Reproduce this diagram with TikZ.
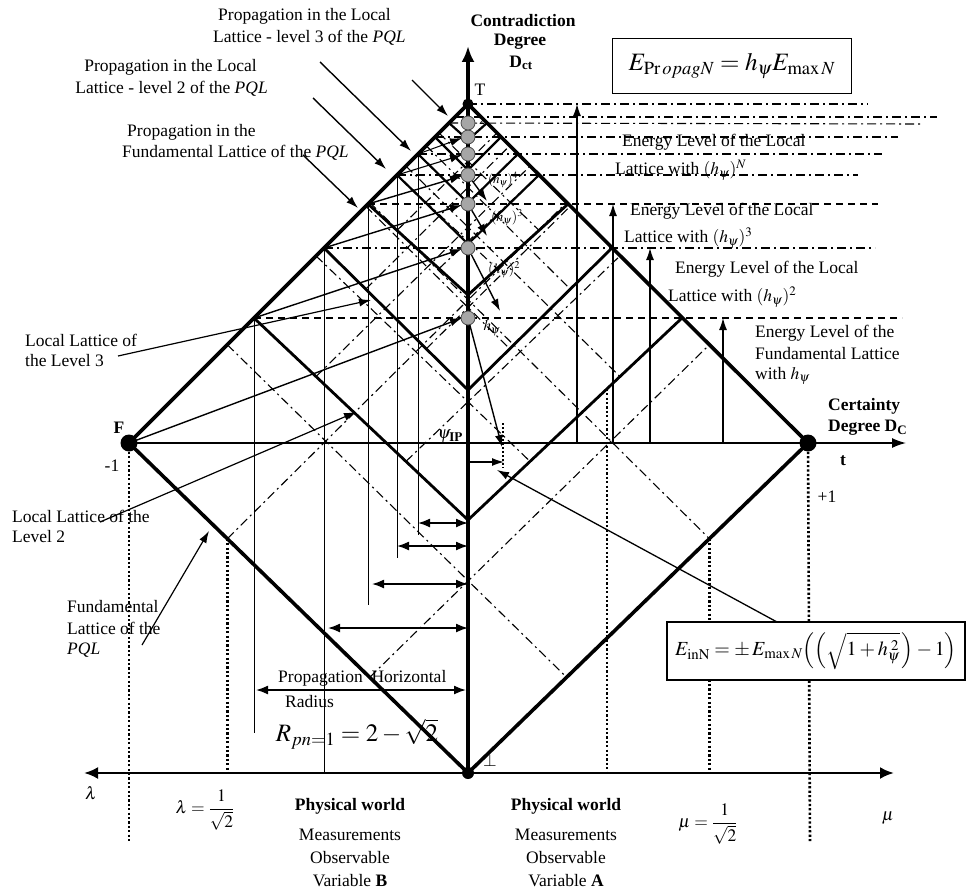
\documentclass[tikz,border=0pt]{standalone}
\usepackage{mathptmx}
\usepackage{fontspec}
\setmainfont{Liberation Serif}
\usetikzlibrary{arrows.meta,calc}
\begin{document}
\begin{tikzpicture}[x=1pt,y=-1pt,
  every node/.style={font=\fontsize{17.5}{21}\selectfont, inner sep=0pt},
  thickl/.style={line width=3.6pt},
  chev/.style={line width=2.8pt},
  chevs/.style={line width=2.2pt},
  thinl/.style={line width=0.9pt},
  dd/.style={line width=1.1pt, dash pattern=on 9pt off 4pt on 2pt off 4pt},
  dsh/.style={line width=1.1pt, dash pattern=on 7pt off 5pt},
  dotl/.style={line width=2.6pt, dash pattern=on 2.2pt off 2.2pt},
  arr/.style={line width=1.4pt, -{Latex[length=12pt,width=8pt]}},
  darr/.style={line width=1.6pt, {Latex[length=12pt,width=9pt]}-{Latex[length=12pt,width=9pt]}},
  gdot/.style={circle, fill=gray!70, draw=black!70, line width=0.8pt, minimum size=14pt},
  bdot/.style={circle, fill=black, minimum size=#1},
  lbl/.style={anchor=west},
  hdr/.style={font=\fontsize{17.5}{21}\selectfont\bfseries},
]
\useasboundingbox (0,0) rectangle (971,891);
% main points
\coordinate (T) at (468,104);
\coordinate (F) at (129,443);
\coordinate (R) at (808,443);
\coordinate (B) at (468,773);
\coordinate (Ytop) at (468,46);
\coordinate (Tend) at (906,443);
\coordinate (Lend) at (84,773);
\coordinate (Mend) at (894,773);
% nested lattices
\foreach \k/\yl/\yb in {1/318/520, 2/248/390, 3/204/295, 4/175/244, 5/154/203, 6/137/170, 7/123/140} {
  \coordinate (F\k) at ({572-\yl},\yl);
  \coordinate (R\k) at ({\yl+364},\yl);
  \coordinate (B\k) at (468,\yb);
  \coordinate (c\k) at (468,\yl);
}
% dash-dot sub-lattices
\foreach \a/\b/\c/\d in {T/F/B/R, T/F1/B1/R1, T/F2/B2/R2, T/F3/B3/R3} {
  \draw[dd] ($(\b)!0.29!(\c)$) -- ($(\a)!0.29!(\d)$);
  \draw[dd] ($(\b)!0.71!(\c)$) -- ($(\a)!0.71!(\d)$);
  \draw[dd] ($(\a)!0.29!(\b)$) -- ($(\d)!0.29!(\c)$);
  \draw[dd] ($(\a)!0.71!(\b)$) -- ($(\d)!0.71!(\c)$);
}
% level lines
\draw[dd] (T) -- (868,104);
\coordinate (F8) at (455,117);
\draw[dd] (F8) -- (937,117);
\draw[dd] (F7) -- (920,124);
\draw[dd] (F6) -- (898,137);
\draw[dd] (F5) -- (882,154);
\draw[dd] (F4) -- (858,175);
\draw[dsh] (F3) -- (878,204);
\draw[dd] (F2) -- (875,248);
\draw[dsh] (F1) -- (902,318);
% dotted verticals
\coordinate (lam) at ($(F)!0.29!(B)$);
\coordinate (mu) at ($(R)!0.29!(B)$);
\coordinate (d607) at ($(B1)!0.65!(R1)$);
\draw[dotl] (F) -- (129,843);
\draw[dotl] (R) -- (810,843);
\draw[dotl] (lam) -- (lam |- B);
\draw[dotl] (mu) -- (mu |- B);
\draw[dotl] (d607) -- (d607 |- B);
% thin verticals left
\draw[thinl] (F1) -- (254,733);
\draw[thinl] (F2) -- (F2 |- B);
\draw[thinl] (F3) -- (368,605);
\draw[thinl] (F4) -- (397,558);
\draw[thinl] (F5) -- (418,535);
% energy arrows right
\draw[arr, line width=1.2pt] (577,443) -- (577,104);
\draw[arr, line width=1.2pt] (613,443) -- (613,204);
\draw[arr, line width=1.2pt] (650,443) -- (650,248);
\draw[arr, line width=1.2pt] (723,443) -- (723,318);
% horizontal double arrows
\draw[darr] (418,523) -- (468,523);
\draw[darr] (397,546) -- (468,546);
\draw[darr] (372,584) -- (468,584);
\draw[darr] (328,628) -- (468,628);
\draw[darr] (256,690) -- (466,690);
% t-axis
\draw[line width=1.5pt, -{Latex[length=14pt,width=10pt]}] (F) -- (Tend);
% bottom axis
\draw[line width=2.6pt, {Latex[length=14pt,width=12pt]}-{Latex[length=14pt,width=12pt]}] (Lend) -- (Mend);
% chevrons
\foreach \k in {1,2,3} { \draw[chev] (F\k) -- (B\k) -- (R\k); }
\foreach \k in {4,5,6,7} { \draw[chevs] (F\k) -- (B\k) -- (R\k); }
% main diamond
\draw[thickl, line join=miter] (T) -- (F) -- (B) -- (R) -- cycle;
% vertical axis
\draw[line width=3.8pt, -{Latex[length=16pt,width=13pt]}] (B) -- (Ytop);
% arrows from lattice vertices to axis points
\draw[arr] (F) -- ($(c1)+(-6,0)$);
\draw[arr] (F1) -- ($(c2)+(-6,1)$);
\draw[arr] (F2) -- ($(c3)+(-6,1)$);
\draw[arr] (F3) -- ($(c4)+(-6,1)$);
\draw[arr, line width=1.1pt] (F4) -- ($(c5)+(-6,1)$);
\draw[arr, line width=1pt] (F5) -- ($(c6)+(-6,1)$);
% gray circles
\foreach \k in {1,...,7} { \node[gdot] (g\k) at (c\k) {}; }
% black dots
\node[bdot=17pt] (dF) at (F) {};
\node[bdot=17pt] (dR) at (R) {};
\node[bdot=11pt] (dT) at (T) {};
\node[bdot=12pt] (dB) at (B) {};
% down arrows from circles
\coordinate (a4) at (487,201);
\coordinate (a3) at (487,236);
\coordinate (a2) at (500,311);
\coordinate (a1) at (502,447);
\draw[arr] (g4) -- (a4);
\draw[arr] (g3) -- (a3);
\draw[arr] (g2) -- (a2);
\draw[arr] (g1) -- (a1);
\node (h4) at (503,180) {\fontsize{13}{15}\selectfont$(h_{\psi})^{4}$};
\node (h3) at (507,218) {\fontsize{14}{16}\selectfont$(h_{\psi})^{3}$};
\node (h2) at (504,270) {\fontsize{14}{16}\selectfont$(h_{\psi})^{2}$};
\node (h1) at (492,328) {\fontsize{15}{17}\selectfont$h_{\psi}$};
\node (two) at (482,121) {\fontsize{11}{12}\selectfont\bfseries 2};
% psi IP
\coordinate (pIPa) at (503,423);
\coordinate (pIPb) at (503,468);
\draw[line width=2pt, dash pattern=on 2pt off 2pt] (pIPa) -- (pIPb);
\coordinate (ax462) at (470,462);
\coordinate (pIP) at (504,462);
\draw[arr, line width=1.3pt] (ax462) -- (pIP);
\node[anchor=east] (psiIP) at (463,436) {$\psi_{\mathbf{IP}}$};
% label arrows top
\coordinate (s1) at (412,80);  \coordinate (e1) at (448,116);
\coordinate (s2) at (320,62);  \coordinate (e2) at (411,151);
\coordinate (s3) at (313,98);  \coordinate (e3) at (386,169);
\coordinate (s4) at (303,155); \coordinate (e4) at (358,208);
\draw[arr] (s1) -- (e1);
\draw[arr] (s2) -- (e2);
\draw[arr] (s3) -- (e3);
\draw[arr] (s4) -- (e4);
% left label lines
\coordinate (s5) at (118,356); \coordinate (e5) at (371,300);
\coordinate (s6) at (100,522); \coordinate (e6) at (356,412);
\coordinate (s7) at (142,645); \coordinate (e7) at (209,531);
\draw[arr, line width=1.2pt] (s5) -- (e5);
\draw[arr, line width=1.2pt] (s6) -- (e6);
\draw[arr, line width=1.2pt] (s7) -- (e7);
% formula box bottom with connector
\node[draw, line width=1.3pt, fill=white, minimum width=298pt, minimum height=58pt] (boxI) at (816,651)
  {\fontsize{20}{24}\selectfont$E_{\mathrm{inN}} = \pm\, E_{\max N}\Bigl(\Bigl(\sqrt{1+h_{\psi}^{\;2}}\,\Bigr)-1\Bigr)$};
\coordinate (boxItop) at (777,622);
\coordinate (eI) at (497,470);
\draw[arr, line width=1.3pt] (boxItop) -- (eI);
% formula box top
\node[draw, line width=1.3pt, fill=white, minimum width=239pt, minimum height=55pt] (boxP) at (732,66)
  {\fontsize{25}{28}\selectfont$E_{\mathrm{Pr}\,opagN} = h_{\psi} E_{\max N}$};
% texts top-left
\node[lbl] (t1a) at (218,16) {Propagation in the Local};
\node[lbl] (t1b) at (213,38) {Lattice - level 3 of the \textit{PQL}};
\node[anchor=east] (t2a) at (257,67) {Propagation in the Local};
\node[anchor=east] (t2b) at (268,89) {Lattice - level 2 of the \textit{PQL}};
\node[lbl] (t3a) at (127,132) {Propagation in the};
\node[lbl] (t3b) at (122,153) {Fundamental Lattice of the \textit{PQL}};
% axis titles
\node[hdr] (ct1) at (523,21) {Contradiction};
\node[hdr] (ct2) at (520,42) {Degree};
\node[hdr] (ct3) at (521,63) {D\textsubscript{ct}};
\node (lT) at (480,90) {T};
\node[hdr, anchor=west] (cd1) at (828,406) {Certainty};
\node[hdr, anchor=west] (cd2) at (828,428) {Degree D\textsubscript{C}};
\node[hdr] (lt) at (843,461) {t};
\node[hdr] (lF) at (119,428) {F};
\node (lm1) at (112,466) {-1};
\node (lp1) at (827,497) {+1};
\node (lbot) at (490,760) {$\perp$};
% energy labels
\node[lbl] (en1a) at (622,142) {Energy Level of the Local};
\node[lbl] (en1b) at (615,170) {Lattice with $(h_{\psi})^{N}$};
\node[lbl] (en2a) at (630,211) {Energy Level of the Local};
\node[lbl] (en2b) at (624,238) {Lattice with $(h_{\psi})^{3}$};
\node[lbl] (en3a) at (675,269) {Energy Level of the Local};
\node[lbl] (en3b) at (668,297) {Lattice with $(h_{\psi})^{2}$};
\node[lbl] (en4a) at (755,333) {Energy Level of the};
\node[lbl] (en4b) at (755,354) {Fundamental Lattice};
\node[lbl] (en4c) at (755,376) {with $h_{\psi}$};
% left labels
\node[lbl] (ll3a) at (25,340) {Local Lattice of};
\node[lbl] (ll3b) at (25,361) {the Level 3};
\node[lbl] (ll2a) at (12,516) {Local Lattice of the};
\node[lbl] (ll2b) at (12,537) {Level 2};
\node[lbl] (fl1) at (67,607) {Fundamental};
\node[lbl] (fl2) at (67,628) {Lattice of the};
\node[lbl] (fl3) at (67,650) {\textit{PQL}};
% propagation radius
\node[lbl] (pr1) at (278,678) {Propagation\ \ Horizontal};
\node[lbl] (pr2) at (285,702) {Radius};
\node (rf) at (357,734) {\fontsize{25}{28}\selectfont$R_{pn=1} = 2-\sqrt{2}$};
% bottom labels
\node (llam) at (91,793) {$\lambda$};
\node (lmu) at (888,818) {$\mu$};
\node (lamf) at (205,810) {$\lambda = {\displaystyle\frac{1}{\sqrt{2}}}$};
\node (muf) at (708,824) {$\mu = {\displaystyle\frac{1}{\sqrt{2}}}$};
\node[hdr] (pw1) at (350,806) {Physical world};
\node (me1) at (350,835) {Measurements};
\node (ob1) at (350,858) {Observable};
\node (vb1) at (350,881) {Variable \textbf{B}};
\node[hdr] (pw2) at (566,806) {Physical world};
\node (me2) at (566,835) {Measurements};
\node (ob2) at (566,858) {Observable};
\node (vb2) at (566,881) {Variable \textbf{A}};
\end{tikzpicture}
\end{document}
